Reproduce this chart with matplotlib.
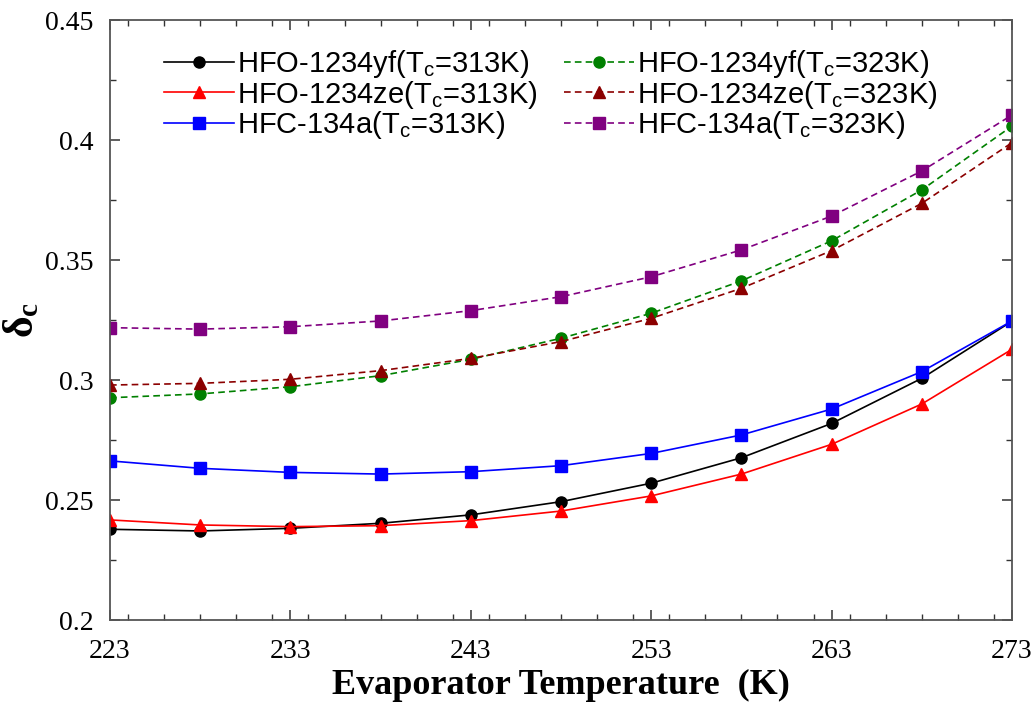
import matplotlib
matplotlib.use("Agg")
import matplotlib.pyplot as plt
from matplotlib.ticker import MultipleLocator

plt.rcParams['mathtext.fontset'] = 'custom'
plt.rcParams['mathtext.rm'] = 'Liberation Sans'
plt.rcParams['mathtext.it'] = 'Liberation Sans:italic'
plt.rcParams['mathtext.bf'] = 'Liberation Serif:bold'

temps = [223, 228, 233, 238, 243, 248, 253, 258, 263, 268, 273]

yf_313 = [0.2378, 0.2371, 0.2382, 0.2403, 0.2438, 0.2493, 0.2570, 0.2676, 0.2819, 0.3007, 0.3245]
ze_313 = [0.2417, 0.2396, 0.2389, 0.2393, 0.2414, 0.2454, 0.2517, 0.2608, 0.2732, 0.2900, 0.3128]
r134_313 = [0.2663, 0.2632, 0.2615, 0.2608, 0.2618, 0.2643, 0.2694, 0.2771, 0.2879, 0.3035, 0.3246]
yf_323 = [0.2926, 0.2942, 0.2972, 0.3018, 0.3086, 0.3174, 0.3278, 0.3413, 0.3580, 0.3792, 0.4058]
ze_323 = [0.2979, 0.2986, 0.3003, 0.3039, 0.3090, 0.3160, 0.3257, 0.3382, 0.3539, 0.3736, 0.3989]
r134_323 = [0.3218, 0.3212, 0.3222, 0.3246, 0.3289, 0.3347, 0.3430, 0.3542, 0.3683, 0.3871, 0.4104]

labels = ['HFO-1234yf(T$_\\mathrm{c}$=313K)', 'HFO-1234ze(T$_\\mathrm{c}$=313K)',
          'HFC-134a(T$_\\mathrm{c}$=313K)', 'HFO-1234yf(T$_\\mathrm{c}$=323K)',
          'HFO-1234ze(T$_\\mathrm{c}$=323K)', 'HFC-134a(T$_\\mathrm{c}$=323K)']

fig = plt.figure(figsize=(10.36, 7.07), dpi=100)
ax = fig.add_axes([110/1036, 1 - 620/707, 902/1036, 600/707])

series = [
    (yf_313, 'black', '-', 'o', 8),
    (ze_313, '#ff0000', '-', '^', 9),
    (r134_313, '#0000ff', '-', 's', 8.5),
    (yf_323, '#008000', '--', 'o', 8),
    (ze_323, '#8b0000', '--', '^', 9),
    (r134_323, '#800080', '--', 's', 8.5),
]
handles = []
for (vals, col, ls, mk, ms), lab in zip(series, labels):
    h, = ax.plot(temps, vals, color=col, linestyle=ls, marker=mk, markersize=ms,
                 linewidth=1.2, label=lab, dashes=(4, 2.5) if ls == '--' else (None, None))
    handles.append(h)

leg = ax.legend(handles=handles, labels=labels, ncol=2, frameon=False,
                loc='upper left', bbox_to_anchor=(0.04, 0.982),
                prop={'family': 'Liberation Sans', 'size': 21},
                handlelength=2.4, handletextpad=0.12, columnspacing=0.9,
                labelspacing=-0.06, numpoints=1, borderaxespad=0.2)

ax.set_xlim(223, 273)
ax.set_ylim(0.2, 0.45)
ax.xaxis.set_minor_locator(MultipleLocator(2))
ax.yaxis.set_minor_locator(MultipleLocator(0.025))
ax.set_xticks([223, 233, 243, 253, 263, 273])
ax.set_yticks([0.2, 0.25, 0.3, 0.35, 0.4, 0.45])
ax.set_yticklabels(['0.2', '0.25', '0.3', '0.35', '0.4', '0.45'])

ax.tick_params(which='both', direction='in', top=True, right=True, colors='#333333')
ax.tick_params(which='major', length=7, width=1.1, pad=12)
ax.tick_params(axis='x', which='major', pad=14)
ax.tick_params(which='minor', length=4, width=1.0)
for lab in ax.get_xticklabels() + ax.get_yticklabels():
    lab.set_fontfamily('Liberation Serif')
    lab.set_fontsize(20)
    lab.set_color('black')
for sp in ax.spines.values():
    sp.set_color('#555555')
    sp.set_linewidth(1.3)

ax.set_xlabel('Evaporator Temperature  (K)', fontfamily='Liberation Serif',
              fontweight='bold', fontsize=26, labelpad=3)
ax.set_ylabel(r'$\mathbf{\delta_c}$', fontsize=30, labelpad=2)

fig.savefig('out.png', dpi=100)
